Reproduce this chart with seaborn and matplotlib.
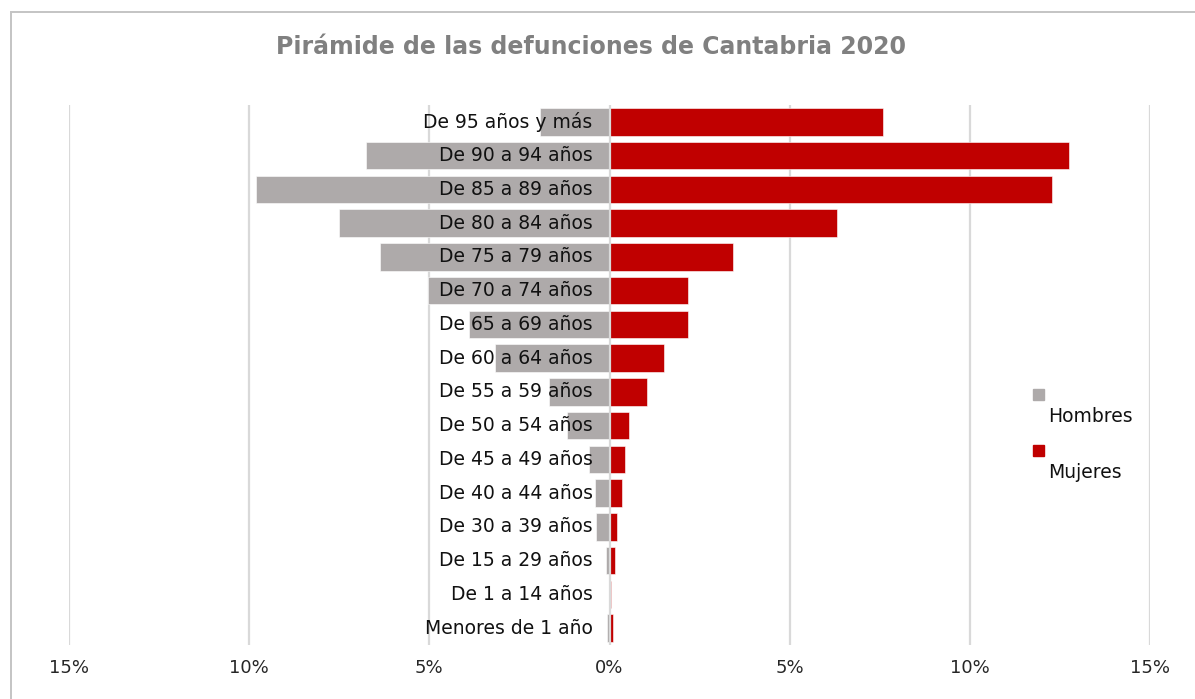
import matplotlib as mpl
mpl.use('Agg')
import matplotlib.pyplot as plt
from matplotlib.patches import Rectangle
import pandas as pd
import seaborn as sns


# Age groups, top of the pyramid first.
age_groups = ['De 95 años y más', 'De 90 a 94 años', 'De 85 a 89 años', 'De 80 a 84 años',
              'De 75 a 79 años', 'De 70 a 74 años', 'De 65 a 69 años', 'De 60 a 64 años',
              'De 55 a 59 años', 'De 50 a 54 años', 'De 45 a 49 años', 'De 40 a 44 años',
              'De 30 a 39 años', 'De 15 a 29 años', 'De 1 a 14 años', 'Menores de 1 año']

# Share of deaths (%).
hombres = [1.94, 6.75, 9.8, 7.5, 6.36, 5.05, 3.9, 3.17,
           1.67, 1.17, 0.57, 0.39, 0.37, 0.11, 0.02, 0.06]
mujeres = [7.6, 12.75, 12.27, 6.3, 3.44, 2.19, 2.19, 1.5,
           1.03, 0.54, 0.42, 0.35, 0.22, 0.15, 0.05, 0.11]

tick_values = [-15, -10, -5, 0, 5, 10, 15]
tick_labels = ['15%', '10%', '5%', '0%', '5%', '10%', '15%']

series_names = ['Hombres', 'Mujeres']
series_colors = ['#AEAAAA', '#C00000']


def main():
    sns.set_theme(style='white')
    plt.rcParams['font.family'] = ['DejaVu Sans']

    df = pd.DataFrame({'grupo': age_groups,
                       'Hombres': [-v for v in hombres],
                       'Mujeres': mujeres})

    fig = plt.figure(figsize=(11.95, 6.99), dpi=100)
    ax = fig.add_axes([69 / 1195, 1 - 645 / 699, (1150 - 69) / 1195, 540 / 699])

    for name, color in zip(series_names, series_colors):
        sns.barplot(data=df, x=name, y='grupo', order=age_groups, color=color,
                    width=0.82, edgecolor='white', linewidth=0.4, saturation=1,
                    ax=ax, zorder=2)

    # Format chart.
    ax.set_xlim(-15, 15)
    ax.set_ylim(len(age_groups) - 0.5, -0.5)
    ax.set_xticks(tick_values)
    ax.set_xticklabels(tick_labels, fontsize=13, color='#262626')
    ax.tick_params(axis='x', length=0, pad=10)
    ax.set_yticks([])
    ax.set_xlabel('')
    ax.set_ylabel('')
    for spine in ax.spines.values():
        spine.set_visible(False)
    for v in tick_values:
        ax.axvline(v, color='#D9D9D9', linewidth=1.6, zorder=1 if v else 3)

    # Category labels sit just left of the zero line.
    for i, label in enumerate(age_groups):
        ax.text(-0.47, i, label, ha='right', va='center', fontsize=13.5,
                color='#111111', zorder=4)

    # Legend, Excel-style: square above each label.
    for k, (name, color) in enumerate(zip(series_names, series_colors)):
        y_sq = 1 - (400 + 56 * k) / 699
        fig.patches.append(Rectangle((1033 / 1195, y_sq), 11 / 1195, 11 / 699,
                                     transform=fig.transFigure, color=color))
        fig.text(1048 / 1195, 1 - (417 + 56 * k) / 699, name, ha='left', va='center',
                 fontsize=13.5, color='#111111')

    fig.text(591 / 1195, 1 - 47 / 699, 'Pirámide de las defunciones de Cantabria 2020',
             ha='center', va='center', fontsize=17, fontweight='bold', color='#808080')

    # Chart border.
    fig.patches.append(Rectangle((11 / 1195, -0.1), 1.2, 1.1 - 12 / 699, fill=False,
                                 edgecolor='#C4C4C4', linewidth=1.4,
                                 transform=fig.transFigure))

    plt.savefig('out.png', dpi=100)
    plt.clf()


if __name__ == '__main__':
    main()
